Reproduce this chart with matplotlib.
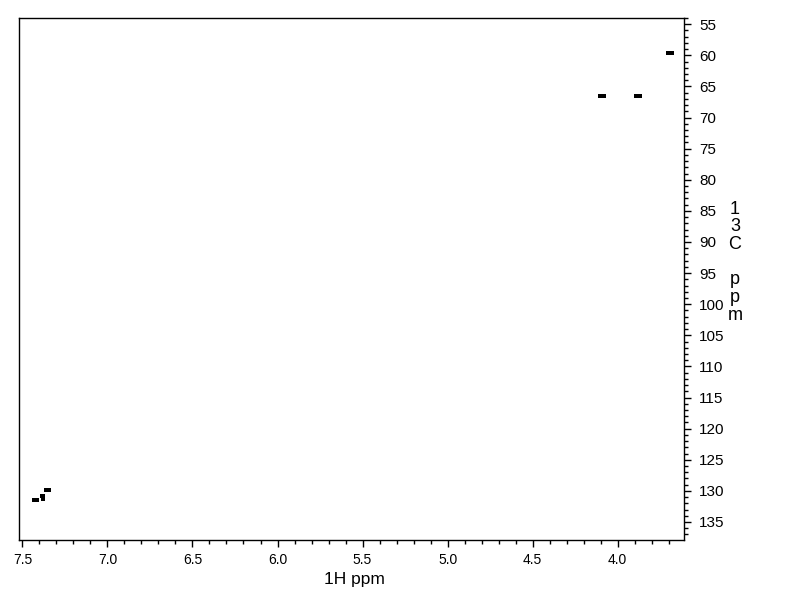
import numpy as np
import matplotlib
matplotlib.use("Agg")
import matplotlib.pyplot as plt
from matplotlib.ticker import MultipleLocator

plt.rcParams['font.family'] = ['Liberation Sans', 'DejaVu Sans']

# cross peaks (1H ppm, 13C ppm), each multiplet split in a few points
peak_h = [3.702, 3.692, 3.680,
          3.890, 3.878, 3.866,
          4.104, 4.094, 4.082,
          7.364, 7.354, 7.344,
          7.386, 7.376, 7.380,
          7.434, 7.424, 7.412]
peak_c = [59.6, 59.6, 59.6,
          66.6, 66.6, 66.6,
          66.6, 66.6, 66.6,
          129.8, 129.8, 129.8,
          130.8, 130.8, 131.3,
          131.4, 131.4, 131.4]

xlim = (7.52, 3.61)
ylim = (137.9, 54.0)

fig = plt.figure(figsize=(7.92, 6.12), dpi=100)
ax = fig.add_axes([0.024, 0.1176, 0.8396, 0.853])

ax.scatter(peak_h, peak_c, marker='s', s=5, c='k', linewidths=0)

ax.set_xlim(*xlim)
ax.set_ylim(*ylim)

ax.xaxis.set_major_locator(MultipleLocator(0.5))
ax.xaxis.set_minor_locator(MultipleLocator(0.1))
ax.yaxis.set_major_locator(MultipleLocator(5))
ax.yaxis.set_minor_locator(MultipleLocator(1))
ax.xaxis.set_major_formatter(plt.FormatStrFormatter('%.1f'))

ax.yaxis.tick_right()
ax.tick_params(axis='both', which='major', length=5, width=1, direction='out')
ax.tick_params(axis='both', which='minor', length=3, width=1, direction='out')
ax.tick_params(axis='x', pad=4, labelsize=10)
ax.tick_params(axis='y', pad=6, labelsize=11)

for s in ax.spines.values():
    s.set_linewidth(1)

ax.set_xlabel("1H ppm", fontsize=12.5)
ax.xaxis.set_label_coords(0.505, -0.062)

fig.text(0.928, 0.672, "1\n3\nC\n\np\np\nm", fontsize=13, ha='center', va='top',
         linespacing=1.05)

fig.savefig("out.png", dpi=100)
